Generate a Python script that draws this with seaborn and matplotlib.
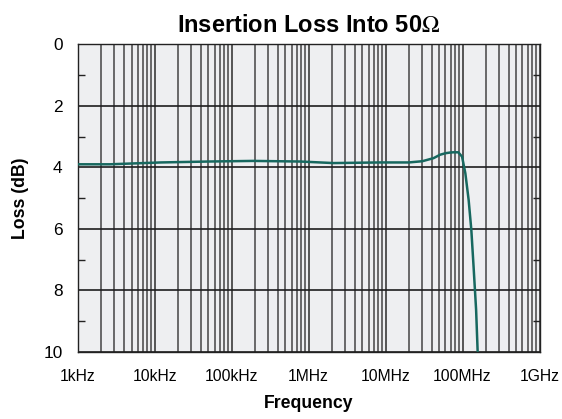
import numpy as np
import pandas as pd
import seaborn as sns
import matplotlib
matplotlib.use("Agg")
import matplotlib.pyplot as plt
from matplotlib.ticker import FixedLocator, LogLocator, NullFormatter, MultipleLocator

# values
freq_hz = [1e3, 2.6e3, 12e3, 50e3, 190e3, 780e3, 2.1e6, 8.5e6, 20e6, 30e6,
           42e6, 51e6, 60e6, 68e6, 76e6, 88e6, 98.5e6, 108.7e6, 120e6, 130e6,
           139e6, 150e6, 157e6]
loss_db = [3.90, 3.90, 3.84, 3.81, 3.79, 3.81, 3.86, 3.84, 3.84, 3.80,
           3.70, 3.59, 3.54, 3.52, 3.51, 3.51, 3.65, 4.19, 5.06, 6.03,
           7.22, 8.63, 9.97]

x_ticks = [1e3, 1e4, 1e5, 1e6, 1e7, 1e8, 1e9]
x_tick_labels = ["1kHz", "10kHz", "100kHz", "1MHz", "10MHz", "100MHz", "1GHz"]
y_ticks = [0, 2, 4, 6, 8, 10]

LINE_COLOR = "#17685f"
BG_COLOR = "#eeeff1"


def main():
    sns.set_style("white", {"axes.facecolor": BG_COLOR,
                            "text.color": "black",
                            "axes.labelcolor": "black",
                            "xtick.color": "black",
                            "ytick.color": "black"})
    plt.rcParams["font.family"] = ["Liberation Sans", "DejaVu Sans"]
    plt.rcParams["mathtext.fontset"] = "stix"

    df = pd.DataFrame({"Frequency": freq_hz, "Loss": loss_db})

    fig = plt.figure(figsize=(5.62, 4.19), dpi=100)
    ax = fig.add_axes([0.1383, 0.1599, 0.8217, 0.7344])
    ax.set_xscale("log")

    sns.lineplot(data=df, x="Frequency", y="Loss", ax=ax, color=LINE_COLOR,
                 linewidth=1.8, sort=True, zorder=5)

    ax.set_xlim(1e3, 1e9)
    ax.set_ylim(10, 0)

    ax.xaxis.set_major_locator(FixedLocator(x_ticks))
    ax.set_xticklabels(x_tick_labels)
    ax.xaxis.set_minor_locator(LogLocator(base=10, subs=np.arange(2, 10), numticks=20))
    ax.xaxis.set_minor_formatter(NullFormatter())

    ax.yaxis.set_major_locator(FixedLocator(y_ticks))
    ax.yaxis.set_minor_locator(MultipleLocator(1))

    ax.grid(which="major", axis="x", color="#3a3a3a", linewidth=1.2)
    ax.grid(which="minor", axis="x", color="#444444", linewidth=1.1)
    ax.grid(which="major", axis="y", color="#1e1e1e", linewidth=1.2)
    ax.set_axisbelow(True)

    ax.tick_params(axis="x", which="both", length=0, pad=12, labelsize=11.3,
                   labelcolor="black")
    ax.tick_params(axis="y", which="major", length=0, pad=11, labelsize=12.4,
                   labelcolor="black")
    ax.tick_params(axis="y", which="minor", direction="in", length=5,
                   width=1, color="#222222", left=True, right=True)

    for side in ["left", "right", "top", "bottom"]:
        ax.spines[side].set_color("#222222")
        ax.spines[side].set_linewidth(1.0)

    ax.set_title(r"Insertion Loss Into 50$\Omega$", fontsize=17,
                 fontweight="bold", pad=9, color="black")
    ax.set_xlabel("Frequency", fontsize=12.7, fontweight="bold", labelpad=8,
                  color="black")
    ax.set_ylabel("Loss (dB)", fontsize=12.7, fontweight="bold", labelpad=10,
                  color="black")

    fig.savefig("out.png", dpi=100)


if __name__ == "__main__":
    main()
